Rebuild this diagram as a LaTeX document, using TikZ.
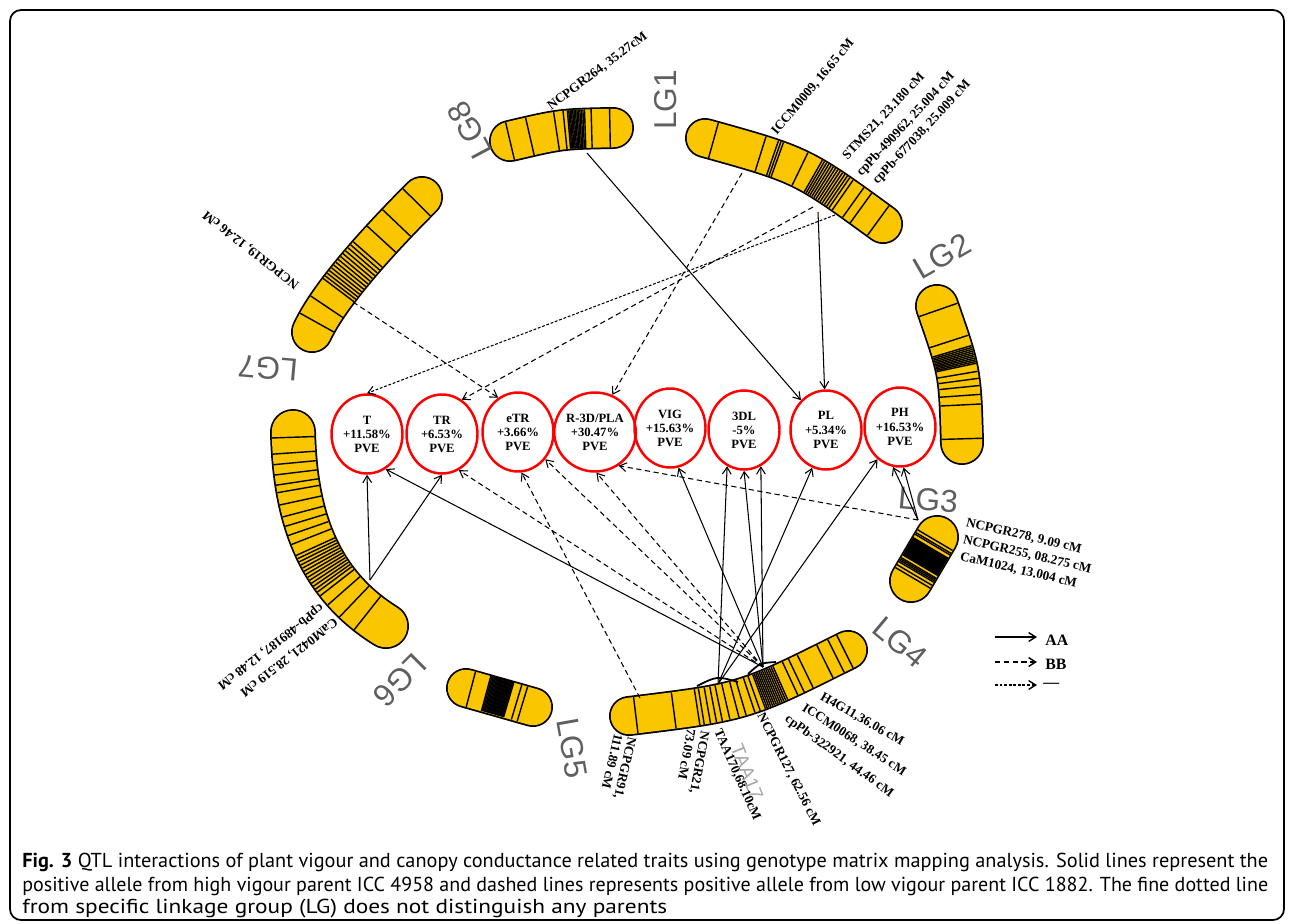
\documentclass[tikz,border=0pt]{standalone}
\usepackage{graphicx}
\usepackage{fontspec}
\setmainfont{Liberation Serif}
\newfontfamily\lgfont{Liberation Sans}
\newfontfamily\capfont{PT Sans}
\usetikzlibrary{shapes.geometric,arrows.meta}
\definecolor{chromyellow}{RGB}{250,198,0}
\definecolor{lggray}{RGB}{95,95,95}
\newcommand{\chromo}[3]{%
  \draw[chromo, double distance=#2cm] #1;
  \foreach \p in {#3}
    \path #1 node[band, minimum height=#2cm, pos=\p] {};
}
\tikzset{
  chromo/.style={draw=black, line width=0.035cm, double=chromyellow, line cap=round},
  band/.style={draw, line width=0.8pt, inner sep=0pt, minimum width=0pt, rectangle, sloped},
  trait/.style={ellipse, draw=red, line width=1.4pt, minimum width=1.42cm, minimum height=1.58cm,
    inner sep=0pt, align=center, font=\fontsize{7.2}{8}\selectfont\bfseries},
  marker/.style={font=\fontsize{7.5}{8}\selectfont\bfseries, inner sep=0pt, anchor=west},
  lg/.style={font=\lgfont\fontsize{18}{18}\selectfont, text=lggray, inner sep=0pt},
  tip/.style={-{Straight Barb[length=4pt,width=5pt]}},
  aa/.style={tip, line width=0.6pt},
  bb/.style={tip, line width=0.6pt, dash pattern=on 3pt off 2pt},
  fine/.style={tip, line width=0.6pt, dash pattern=on 1.6pt off 1pt},
  capline/.style={font=\capfont\fontsize{11.5}{13}\selectfont, inner sep=0pt, anchor=west}
}
\begin{document}
\begin{tikzpicture}[x=0.02cm, y=-0.02cm]
\useasboundingbox (0,0) rectangle (1290,923);
\draw[line width=1pt, rounded corners=0.22cm] (10,10) rectangle (1284,920);

\chromo{(510,141) .. controls (561,129) .. (613,128)}{0.77}{0.0,0.15,0.44,0.55,0.6,0.615,0.63,0.645,0.66,0.675,0.69,0.705,0.72,0.735,0.75,0.765,0.78,0.84,0.98}
\chromo{(705,138) .. controls (802,165) .. (883,224)}{0.73}{0.03,0.24,0.31,0.325,0.34,0.5,0.6,0.615,0.63,0.645,0.66,0.675,0.69,0.705,0.72,0.735,0.75,0.765,0.78,0.8,0.86,0.9,0.98}
\chromo{(937,306) .. controls (960,372) .. (962,443)}{0.81}{0.02,0.22,0.3,0.315,0.33,0.345,0.36,0.375,0.39,0.405,0.42,0.435,0.45,0.52,0.58,0.64,0.71,0.78,0.98}
\chromo{(937,537) .. controls (924,559) .. (911,581)}{0.81}{0.05,0.1,0.13,0.2,0.22,0.24,0.26,0.28,0.3,0.32,0.34,0.36,0.38,0.4,0.42,0.44,0.46,0.48,0.5,0.52,0.54,0.56,0.58,0.6,0.62,0.64,0.66,0.68,0.75,0.78,0.81,0.84,0.9,0.95}
\chromo{(629,716) .. controls (744,702) .. (848,650)}{0.73}{0.02,0.15,0.25,0.27,0.3,0.33,0.36,0.4,0.45,0.49,0.54,0.57,0.6,0.61,0.62,0.63,0.64,0.65,0.66,0.67,0.68,0.69,0.7,0.71,0.72,0.77,0.8,0.84,0.92,0.96,0.99}
\chromo{(466,688) .. controls (500,697) .. (533,707)}{0.73}{0.05,0.25,0.27,0.29,0.31,0.33,0.35,0.37,0.39,0.41,0.43,0.45,0.47,0.49,0.51,0.53,0.55,0.57,0.59,0.61,0.63,0.65,0.67,0.8,0.88}
\chromo{(293,432) .. controls (295,520) and (320,585) .. (386,626)}{0.85}{0.02,0.08,0.12,0.16,0.2,0.23,0.28,0.33,0.37,0.41,0.45,0.5,0.515,0.53,0.545,0.56,0.575,0.59,0.605,0.62,0.635,0.65,0.665,0.68,0.7,0.75,0.82,0.9}
\chromo{(422,197) .. controls (362,257) and (326,302) .. (312,332)}{0.77}{0.03,0.15,0.25,0.35,0.37,0.39,0.41,0.43,0.45,0.47,0.49,0.51,0.53,0.55,0.57,0.59,0.61,0.75,0.9}

\node[lg, rotate=90] (lg1) at (666,100) {LG1};
\node[lg, rotate=30] (lg2) at (942,256) {LG2};
\node[lg, rotate=-5] (lg3) at (928,500) {LG3};
\node[lg, rotate=-40] (lg4) at (900,642) {LG4};
\node[lg, rotate=-80] (lg5) at (572,748) {LG5};
\node[lg, rotate=225] (lg6) at (400,680) {LG6};
\node[lg, rotate=175] (lg7) at (268,368) {LG7};
\node[lg, rotate=118] (lg8) at (470,130) {LG8};

\node[marker, rotate=37] (t8) at (549,108) {NCPGR264, 35.27cM};
\node[marker, rotate=50] (t1a) at (774,134) {ICCM0009, 16.65 cM};
\node[marker, rotate=47] (t1b) at (845,158) {STMS21, 23.180 cM};
\node[marker, rotate=47] (t1c) at (859,175) {cpPb-490962, 25.004 cM};
\node[marker, rotate=47] (t1d) at (875,183) {cpPb-677038, 25.009 cM};
\node[marker, rotate=142] (t7) at (298,286) {NCPGR19, 12.46 cM};
\node[marker, rotate=218] (t6a) at (322,606) {cpPb-489187, 12.48 cM};
\node[marker, rotate=218] (t6b) at (336,620) {CaM0421, 28.519 cM};
\node[marker, rotate=-13] (t3a) at (966,523) {NCPGR278, 9.09 cM};
\node[marker, rotate=-13] (t3b) at (963,540) {NCPGR255, 08.275 cM};
\node[marker, rotate=-13] (t3c) at (960,557) {CaM1024, 13.004 cM};
\node[marker, rotate=-30] (t4a) at (821,696) {H4G11,36.06 cM};
\node[marker, rotate=-33] (t4b) at (803,707) {ICCM0068, 38.45 cM};
\node[marker, rotate=-36] (t4c) at (786,718) {cpPb-322921, 44.46 cM};
\node[marker, rotate=-63] (t4d) at (760,714) {NCPGR127, 62.56 cM};
\node[marker, rotate=-66] (t4e) at (717,730) {TAA170,68.10cM};
\node[marker, rotate=-100, anchor=north west, align=left] (t4f) at (710,732) {NCPGR21,\\73.09 cM};
\node[marker, rotate=-103, anchor=north west, align=left] (t4g) at (637,738) {NCPGR91,\\111.89 cM};
\node[lg, rotate=-68, font=\lgfont\fontsize{11}{11}\selectfont, text=gray!70] (taa) at (747,772) {TAA17};

\node[trait] (T) at (367,434) {T\\+11.58\%\\PVE};
\node[trait] (TR) at (442,434) {TR\\+6.53\%\\PVE};
\node[trait] (eTR) at (518,432) {eTR\\+3.66\%\\PVE};
\node[trait] (RPLA) at (595,432) {R-3D/PLA\\+30.47\%\\PVE};
\node[trait] (VIG) at (670,428) {VIG\\+15.63\%\\PVE};
\node[trait] (tdl) at (744,430) {3DL\\-5\%\\PVE};
\node[trait] (PL) at (826,430) {PL\\+5.34\%\\PVE};
\node[trait] (PH) at (900,427) {PH\\+16.53\%\\PVE};

\coordinate (m8) at (587,153);
\coordinate (m1a) at (742,173);
\coordinate (m1b) at (818,212);
\coordinate (m1c) at (813,207);
\coordinate (m1d) at (835,215);
\coordinate (m7) at (353,302);
\coordinate (m6) at (370,580);
\coordinate (j1) at (718,684);
\coordinate (j2) at (763,667);
\coordinate (m4l) at (640,698);
\coordinate (m3) at (918,520);

\draw[aa] (m8) -- (PL.130);
\draw[bb] (m1a) -- (RPLA.65);
\draw[aa] (m1b) -- (PL.92);
\draw[bb] (m1c) -- (TR.60);
\draw[fine] (m1d) -- (T.90);
\draw[bb] (m7) -- (eTR.120);
\draw[aa] (m6) -- (T.-90);
\draw[aa] (m6) -- (TR.-90);
\draw[aa] (j2) -- (T.-62);
\draw[aa] (j2) -- (VIG.-78);
\draw[aa] (j2) -- (tdl.-90);
\draw[aa] (j2) -- (tdl.-65);
\draw[bb] (j2) -- (TR.-65);
\draw[bb] (j2) -- (eTR.-45);
\draw[bb] (j2) -- (RPLA.-88);
\draw[aa] (j1) -- (tdl.-115);
\draw[aa] (j1) -- (PL.-110);
\draw[aa] (j1) -- (PH.-125);
\draw[bb] (m4l) -- (eTR.-85);
\draw[aa] (m3) -- (PH.-100);
\draw[aa] (m3) -- (PH.-85);
\draw[bb] (m3) -- (RPLA.-55);
\draw[line width=1pt] (697,686) .. controls (717,676) .. (738,682);
\draw[line width=1pt] (748,674) .. controls (760,663) .. (776,662);

\coordinate (la1) at (995,637);
\coordinate (lb1) at (1037,637);
\coordinate (la2) at (995,662);
\coordinate (lb2) at (1037,662);
\coordinate (la3) at (995,685);
\coordinate (lb3) at (1037,685);
\draw[aa, line width=0.8pt] (la1) -- (lb1);
\draw[bb, line width=0.8pt] (la2) -- (lb2);
\draw[fine, line width=0.8pt] (la3) -- (lb3);
\node[marker, font=\fontsize{9}{9}\selectfont\bfseries] (kaa) at (1045,640) {AA};
\node[marker, font=\fontsize{9}{9}\selectfont\bfseries] (kbb) at (1045,664) {BB};
\node[marker, font=\fontsize{9}{9}\selectfont\bfseries] (knone) at (1043,685) {—};

\node[capline] (cap1) at (22,862) {\resizebox{24.92cm}{\height}{\textbf{Fig. 3} QTL interactions of plant vigour and canopy conductance related traits using genotype matrix mapping analysis. Solid lines represent the}};
\node[capline] (cap2) at (22,886) {\resizebox{24.92cm}{\height}{positive allele from high vigour parent ICC 4958 and dashed lines represents positive allele from low vigour parent ICC 1882. The fine dotted line}};
\node[capline] (cap3) at (22,909) {\resizebox{12.9cm}{\height}{from specific linkage group (LG) does not distinguish any parents}};
\end{tikzpicture}
\end{document}
